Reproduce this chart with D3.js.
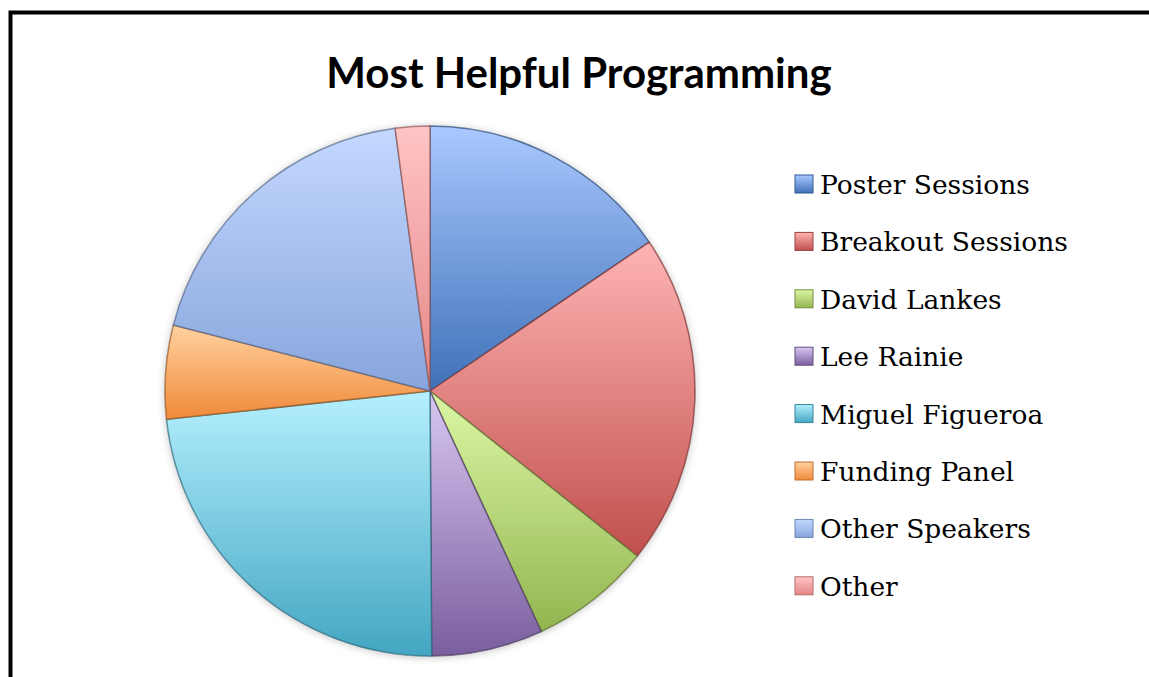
<!DOCTYPE html>
<html>
<head>
<meta charset="utf-8">
<script src="https://cdn.jsdelivr.net/npm/d3@7"></script>
<style>
  body { margin: 0; background: #fff; }
  svg { display: block; }
</style>
</head>
<body>
<svg id="chart" width="1149" height="677"></svg>
<script>
// data (share of answers, %)
let categories = ["Poster Sessions", "Breakout Sessions", "David Lankes", "Lee Rainie",
  "Miguel Figueroa", "Funding Panel", "Other Speakers", "Other"];
let values = [15.5, 20.2, 7.4, 6.8, 23.4, 5.7, 18.9, 2.1];
let baseColors = ["#3F71B8", "#C0504D", "#93B550", "#7A5E9E", "#43A6C2", "#F08A3A", "#87A5DC", "#E58586"];
let lightColors = ["#A9C8FF", "#FFB4B4", "#DDF7A5", "#D8C8F2", "#B5F0FF", "#FFD19E", "#C4D8FF", "#FFC4C4"];

let svg = d3.select("#chart");

// frame (runs off the right and bottom edge)
svg.append("path")
  .attr("d", "M10.5,1000 L10.5,12.5 L1200,12.5")
  .attr("fill", "none")
  .attr("stroke", "#000")
  .attr("stroke-width", 4);

// title
svg.append("text")
  .attr("x", 579)
  .attr("y", 88)
  .attr("text-anchor", "middle")
  .style("font-family", "Lato, 'Open Sans', sans-serif")
  .style("font-weight", "bold")
  .style("font-size", "42px")
  .text("Most Helpful Programming");

let defs = svg.append("defs");

// gradients per slice: light on top, base colour at bottom
baseColors.forEach(function (c, i) {
  let g = defs.append("linearGradient")
    .attr("id", "grad" + i)
    .attr("x1", 0).attr("y1", 0).attr("x2", 0).attr("y2", 1);
  g.append("stop").attr("offset", "0%").attr("stop-color", lightColors[i]);
  g.append("stop").attr("offset", "100%").attr("stop-color", c);
});

let shadow = defs.append("filter").attr("id", "shadow")
  .attr("x", "-10%").attr("y", "-10%").attr("width", "120%").attr("height", "120%");
shadow.append("feGaussianBlur").attr("in", "SourceAlpha").attr("stdDeviation", 4);
shadow.append("feOffset").attr("dx", 0).attr("dy", 1).attr("result", "b");
shadow.append("feComponentTransfer").append("feFuncA").attr("type", "linear").attr("slope", 0.25);
let merge = shadow.append("feMerge");
merge.append("feMergeNode");
merge.append("feMergeNode").attr("in", "SourceGraphic");

let cx = 430, cy = 391, radius = 265;

let pie = d3.pie().sort(null).value(function (d) { return d; });
let arc = d3.arc().innerRadius(0).outerRadius(radius);
let arcs = pie(values);

let pieG = svg.append("g")
  .attr("transform", "translate(" + cx + "," + cy + ")");

pieG.append("circle")
  .attr("r", radius)
  .attr("fill", "#fff")
  .attr("filter", "url(#shadow)");

pieG.selectAll("path.slice")
  .data(arcs)
  .enter()
  .append("path")
  .attr("class", "slice")
  .attr("d", arc)
  .attr("fill", function (d, i) { return "url(#grad" + i + ")"; })
  .attr("stroke", function (d, i) { return d3.color(baseColors[i]).darker(1.3); })
  .attr("stroke-opacity", 0.7)
  .attr("stroke-width", 1.5)
  .attr("stroke-linejoin", "round");

// legend
let legendX = 795, legendY0 = 184, legendStep = 57.4;
let items = svg.append("g").selectAll("g")
  .data(categories)
  .enter()
  .append("g")
  .attr("transform", function (d, i) { return "translate(" + legendX + "," + (legendY0 + i * legendStep) + ")"; });

items.append("rect")
  .attr("x", 0)
  .attr("y", -9)
  .attr("width", 18)
  .attr("height", 18)
  .attr("fill", function (d, i) { return "url(#grad" + i + ")"; })
  .attr("stroke", function (d, i) { return d3.color(baseColors[i]).darker(0.6); })
  .attr("stroke-width", 1);

items.append("text")
  .attr("x", 25)
  .attr("y", 10)
  .style("font-family", "'DejaVu Serif', serif")
  .style("font-size", "26.5px")
  .style("fill", "#000")
  .text(function (d) { return d; });
</script>
</body>
</html>
